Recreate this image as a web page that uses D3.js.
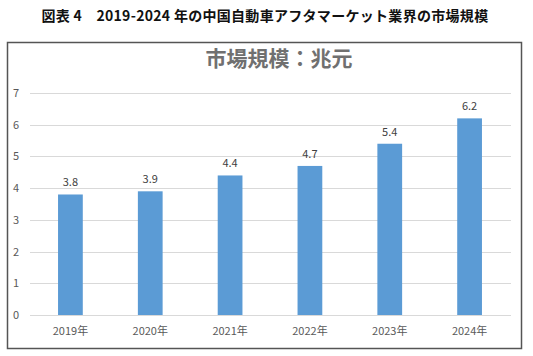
<!DOCTYPE html>
<html><head><meta charset="utf-8">
<script src="https://cdn.jsdelivr.net/npm/d3@7"></script>
<style>body{margin:0;background:#fff}svg{display:block}</style>
</head><body>
<svg id="c" width="533" height="356"></svg>
<script>
const categories = ["2019年","2020年","2021年","2022年","2023年","2024年"];
const values = [3.8, 3.9, 4.4, 4.7, 5.4, 6.2];
const yTicks = [0,1,2,3,4,5,6,7];
const headerTitle = "図表 4　2019-2024 年の中国自動車アフタマーケット業界の市場規模";
const chartTitle = "市場規模：兆元";

const svg = d3.select("#c");
const font = "'Noto Sans CJK JP','Noto Sans',sans-serif";

svg.append("text").attr("x", 265).attr("y", 21).attr("text-anchor","middle")
  .attr("font-family", font).attr("font-weight","bold").attr("font-size", 14)
  .attr("letter-spacing", 0.3).attr("fill","#111").text(headerTitle);

svg.append("rect").attr("x",7.5).attr("y",42.5).attr("width",514).attr("height",306)
  .attr("fill","none").attr("stroke","#555").attr("stroke-width",1.5);

svg.append("text").attr("x", 279).attr("y", 66).attr("text-anchor","middle")
  .attr("font-family", font).attr("font-weight","bold").attr("font-size", 21)
  .attr("fill","#707070").text(chartTitle);

const x = d3.scaleBand().domain(categories).range([30.5, 509.5]).paddingInner(0.69).paddingOuter(0.345);
const y = d3.scaleLinear().domain([0,7]).range([315, 93]);

const grid = svg.append("g");
grid.selectAll("line").data(yTicks).join("line")
  .attr("x1",30).attr("x2",511).attr("y1",d=>Math.round(y(d))+0.5).attr("y2",d=>Math.round(y(d))+0.5)
  .attr("stroke","#d9d9d9").attr("stroke-width",1);

const yAxis = svg.append("g").attr("transform","translate(19,0)")
  .call(d3.axisLeft(y).tickValues(yTicks).tickSize(0).tickPadding(0).tickFormat(d3.format("d")));
yAxis.select(".domain").remove();
yAxis.selectAll("text").attr("font-family",font).attr("font-size",11).attr("fill","#595959");

svg.append("g").selectAll("rect").data(values).join("rect")
  .attr("x",(d,i)=>x(categories[i])).attr("width",x.bandwidth())
  .attr("y",d=>y(d)).attr("height",d=>y(0)-y(d)).attr("fill","#5B9BD5");

svg.append("g").selectAll("text").data(values).join("text")
  .attr("x",(d,i)=>x(categories[i])+x.bandwidth()/2).attr("y",d=>y(d)-8)
  .attr("text-anchor","middle").attr("font-family",font).attr("font-size",11)
  .attr("fill","#404040").text(d=>d.toFixed(1));

const xAxis = svg.append("g").attr("transform","translate(0,315)")
  .call(d3.axisBottom(x).tickSize(0).tickPadding(12));
xAxis.select(".domain").remove();
xAxis.selectAll("text").attr("font-family",font).attr("font-size",11).attr("fill","#595959");
</script>
</body></html>
